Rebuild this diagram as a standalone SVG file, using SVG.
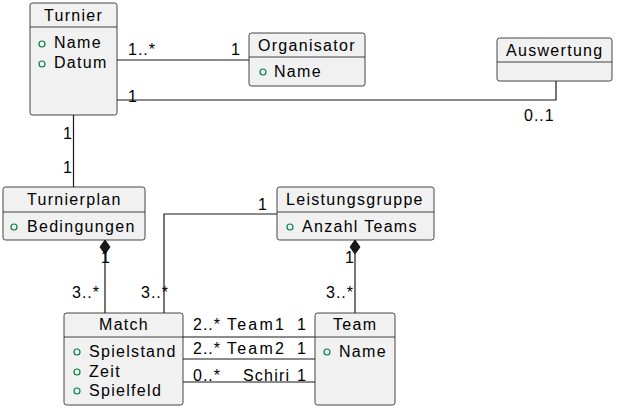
<svg xmlns="http://www.w3.org/2000/svg" width="618" height="409" viewBox="0 0 618 409">
<style>
text{font-family:"Liberation Sans",Arial,sans-serif;font-size:16px;fill:#000;letter-spacing:1.3px}
.box{fill:#F1F1F1;stroke:#181818;stroke-width:0.8}
.sep{stroke:#181818;stroke-width:0.8}
.dot{fill:none;stroke:#038048;stroke-width:1.2}
.ln{fill:none;stroke:#181818;stroke-width:1.2}
.lbl{letter-spacing:1px}
</style>
<rect width="618" height="409" fill="#FFFFFF"/>
<g id="connectors">
<line class="ln" x1="117" y1="60" x2="249" y2="60"/>
<polyline class="ln" points="117,100 556,100 556,81"/>
<line class="ln" x1="73.5" y1="115" x2="73.5" y2="187"/>
<line class="ln" x1="105" y1="254" x2="105" y2="313"/>
<polygon points="105,240 110,247 105,254 100,247" fill="#181818" stroke="#181818"/>
<line class="ln" x1="355" y1="254" x2="355" y2="313"/>
<polygon points="355,240 360,247 355,254 350,247" fill="#181818" stroke="#181818"/>
<polyline class="ln" points="277,214 164,214 164,313"/>
<line class="ln" x1="183" y1="337" x2="315" y2="337"/>
<line class="ln" x1="183" y1="359" x2="315" y2="359"/>
<line class="ln" x1="183" y1="382" x2="315" y2="382"/>
<text class="lbl" x="128" y="55">1..*</text>
<text class="lbl" x="231" y="55">1</text>
<text class="lbl" x="128" y="102">1</text>
<text class="lbl" x="524" y="121">0..1</text>
<text class="lbl" x="63" y="139">1</text>
<text class="lbl" x="63" y="173">1</text>
<text class="lbl" x="101" y="263">1</text>
<text class="lbl" x="72" y="298">3..*</text>
<text class="lbl" x="258" y="210">1</text>
<text class="lbl" x="141" y="298">3..*</text>
<text class="lbl" x="345" y="263">1</text>
<text class="lbl" x="326" y="298">3..*</text>
<text class="lbl" x="193" y="330">2..*</text>
<text x="227" y="330" style="letter-spacing:2.2px">Team1</text>
<text class="lbl" x="297" y="330">1</text>
<text class="lbl" x="193" y="354">2..*</text>
<text x="227" y="354" style="letter-spacing:2.2px">Team2</text>
<text class="lbl" x="297" y="354">1</text>
<text class="lbl" x="193" y="381">0..*</text>
<text x="243" y="381" style="letter-spacing:1.2px">Schiri</text>
<text class="lbl" x="297" y="381">1</text>
</g>
<g id="Turnier">
<rect class="box" x="30" y="3" width="87" height="112" rx="2.5"/>
<line class="sep" x1="30" y1="27" x2="117" y2="27"/>
<text x="44" y="21">Turnier</text>
<circle class="dot" cx="42" cy="44" r="3"/>
<text x="54" y="48">Name</text>
<circle class="dot" cx="42" cy="64" r="3"/>
<text x="54" y="68">Datum</text>
</g>
<g id="Organisator">
<rect class="box" x="249" y="33" width="116" height="53" rx="2.5"/>
<line class="sep" x1="249" y1="57" x2="365" y2="57"/>
<text x="258" y="51">Organisator</text>
<circle class="dot" cx="263" cy="72" r="3"/>
<text x="274" y="77">Name</text>
</g>
<g id="Auswertung">
<rect class="box" x="497" y="38" width="115" height="43" rx="2.5"/>
<line class="sep" x1="497" y1="62" x2="612" y2="62"/>
<text x="506" y="56">Auswertung</text>
</g>
<g id="Turnierplan">
<rect class="box" x="3" y="187" width="142" height="53" rx="2.5"/>
<line class="sep" x1="3" y1="212" x2="145" y2="212"/>
<text x="27" y="205">Turnierplan</text>
<circle class="dot" cx="14" cy="227" r="3"/>
<text x="27" y="232">Bedingungen</text>
</g>
<g id="Leistungsgruppe">
<rect class="box" x="277" y="187" width="157" height="53" rx="2.5"/>
<line class="sep" x1="277" y1="212" x2="434" y2="212"/>
<text x="286" y="205">Leistungsgruppe</text>
<circle class="dot" cx="290" cy="227" r="3"/>
<text x="302" y="232">Anzahl Teams</text>
</g>
<g id="Match">
<rect class="box" x="64" y="313" width="119" height="92" rx="2.5"/>
<line class="sep" x1="64" y1="337" x2="183" y2="337"/>
<text x="99" y="330">Match</text>
<circle class="dot" cx="77" cy="352" r="3"/>
<text x="89" y="357">Spielstand</text>
<circle class="dot" cx="77" cy="372" r="3"/>
<text x="89" y="377">Zeit</text>
<circle class="dot" cx="77" cy="391" r="3"/>
<text x="89" y="396">Spielfeld</text>
</g>
<g id="Team">
<rect class="box" x="315" y="313" width="80" height="92" rx="2.5"/>
<line class="sep" x1="315" y1="337" x2="395" y2="337"/>
<text x="333" y="330">Team</text>
<circle class="dot" cx="327" cy="352" r="3"/>
<text x="339" y="357">Name</text>
</g>
</svg>
